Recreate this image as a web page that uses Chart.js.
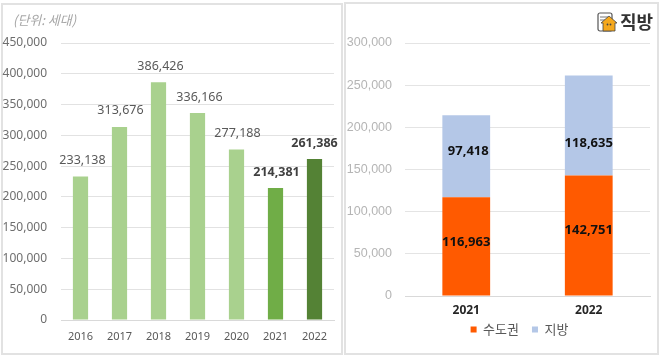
<!DOCTYPE html>
<html><head><meta charset="utf-8">
<script src="https://cdn.jsdelivr.net/npm/chart.js@4"></script>
<style>
html,body{margin:0;padding:0;width:660px;height:359px;background:#fff;overflow:hidden}
.wrap{position:absolute;left:0;top:0;width:660px;height:359px;filter:blur(0.35px)}
.panel{position:absolute;border:2px solid #e2e2e2;box-sizing:border-box;background:#fff}
canvas{position:absolute;top:0}
#unit{position:absolute;left:13px;top:10px;font:italic 13px "Noto Sans CJK KR";color:#a6a6a6}
#brand{position:absolute;left:620px;top:8px;font:bold 18px "Noto Sans CJK KR";color:#333;line-height:27px}
#logo{position:absolute;left:597px;top:12px}
</style></head>
<body><div class="wrap">
<div class="panel" style="left:1px;top:3px;width:342px;height:352px"></div>
<div class="panel" style="left:344px;top:2px;width:315px;height:353px"></div>
<canvas id="a" width="344" height="359" style="left:0;width:344px;height:359px"></canvas>
<canvas id="b" width="316" height="359" style="left:344px;width:316px;height:359px"></canvas>
<div id="unit">(단위: 세대)</div>
<svg id="logo" width="21" height="21" viewBox="0 0 21 21">
<rect x="1" y="1" width="14" height="18" rx="2" fill="#fff" stroke="#555" stroke-width="1.2"/>
<path d="M3 5h8M3 8h5" stroke="#777" stroke-width="1"/>
<path d="M4 11L12 4l8 7-2 0v8H6v-8z" fill="#f5a81c" stroke="#444" stroke-width="0.8"/>
<circle cx="10.5" cy="12.5" r="0.9" fill="#444"/><circle cx="13.5" cy="12.5" r="0.9" fill="#444"/>
</svg>
<div id="brand">직방</div>
</div>
<script>
const years = ['2016','2017','2018','2019','2020','2021','2022'];
const totals = [233138,313676,386426,336166,277188,214381,261386];
const totalColors = ['#a9d18e','#a9d18e','#a9d18e','#a9d18e','#a9d18e','#70ad47','#548235'];
const totalLabelDx = [2,1,2,2,1,1,0];
const totalLabelBold = [false,false,false,false,false,true,true];
const splitYears = ['2021','2022'];
const metro = [116963,142751];
const regional = [97418,118635];
const metroLabelDy = [-4,-5];
const regionalLabelDy = [-5,18];
const regionalLabelDx = [2,0];
const leftFont = '"Noto Sans"';
const rightFont = '"Liberation Sans"';
const fmt = v => v.toLocaleString('en-US');

const totalLabels = {
  id:'totalLabels',
  afterDatasetsDraw(c){
    const x=c.ctx, m=c.getDatasetMeta(0);
    x.save(); x.textAlign='center'; x.textBaseline='middle';
    m.data.forEach((b,i)=>{
      x.font=(totalLabelBold[i]?'bold ':'')+'12.5px '+leftFont;
      x.fillStyle=totalLabelBold[i]?'#404040':'#595959';
      x.fillText(fmt(totals[i]),b.x+totalLabelDx[i],b.y-16);
    });
    x.restore();
  }
};
const splitLabels = {
  id:'splitLabels',
  afterDatasetsDraw(c){
    const x=c.ctx;
    x.save(); x.textAlign='center'; x.textBaseline='middle';
    x.font='bold 13px "Noto Sans"'; x.fillStyle='#111';
    c.getDatasetMeta(0).data.forEach((b,i)=>{
      x.fillText(fmt(metro[i]),b.x,(b.y+b.base)/2+metroLabelDy[i]);
    });
    c.getDatasetMeta(1).data.forEach((b,i)=>{
      x.fillText(fmt(regional[i]),b.x+regionalLabelDx[i],(b.y+b.base)/2+regionalLabelDy[i]);
    });
    x.restore();
  }
};
const shiftLegend = {
  id:'shiftLegend',
  afterLayout(c){ c.legend.left+=22.5; c.legend.right+=22.5; c.legend.top-=13; c.legend.bottom-=13; }
};
const base = {responsive:false,animation:false,events:[]};

new Chart(document.getElementById('a'),{
  type:'bar',
  data:{labels:years,datasets:[{data:totals,backgroundColor:totalColors,barPercentage:0.39,categoryPercentage:1}]},
  options:{...base,
    layout:{padding:{top:43,right:10,bottom:9,left:0}},
    plugins:{legend:{display:false},tooltip:{enabled:false}},
    scales:{
      x:{afterFit(s){s.height=30},grid:{display:false},border:{color:'#d9d9d9',width:1},
        ticks:{color:'#595959',font:{family:leftFont,size:11},padding:2,maxRotation:0}},
      y:{min:0,max:450000,afterFit(s){s.width=61},border:{display:false},
        grid:{color:'#e2e2e2',lineWidth:1,drawTicks:false},
        ticks:{stepSize:50000,padding:14,color:'#6e6e6e',font:{family:leftFont,size:12},callback:fmt}}
    }
  },
  plugins:[totalLabels]
});

new Chart(document.getElementById('b'),{
  type:'bar',
  data:{labels:splitYears,datasets:[
    {label:'수도권',data:metro,backgroundColor:'#ff5a00',barPercentage:0.39,categoryPercentage:1},
    {label:'지방',data:regional,backgroundColor:'#b4c7e7',barPercentage:0.39,categoryPercentage:1}
  ]},
  options:{...base,
    layout:{padding:{top:43,right:10,bottom:0,left:0}},
    plugins:{tooltip:{enabled:false},
      legend:{position:'bottom',labels:{boxWidth:6,boxHeight:6,padding:13,color:'#595959',
        font:{family:'"Noto Sans CJK KR"',size:13}}}},
    scales:{
      x:{stacked:true,afterFit(s){s.height=27},grid:{display:false},border:{color:'#d9d9d9',width:1},
        ticks:{color:'#262626',font:{family:leftFont,size:12,weight:'bold'},padding:-1,maxRotation:0}},
      y:{stacked:true,min:0,max:300000,afterFit(s){s.width=61},border:{display:false},
        grid:{color:'#e4e4e4',lineWidth:1,drawTicks:false},
        ticks:{stepSize:50000,padding:13,color:'#b5b5b5',font:{family:rightFont,size:12.5},callback:fmt}}
    }
  },
  plugins:[splitLabels,shiftLegend]
});
</script></body></html>
